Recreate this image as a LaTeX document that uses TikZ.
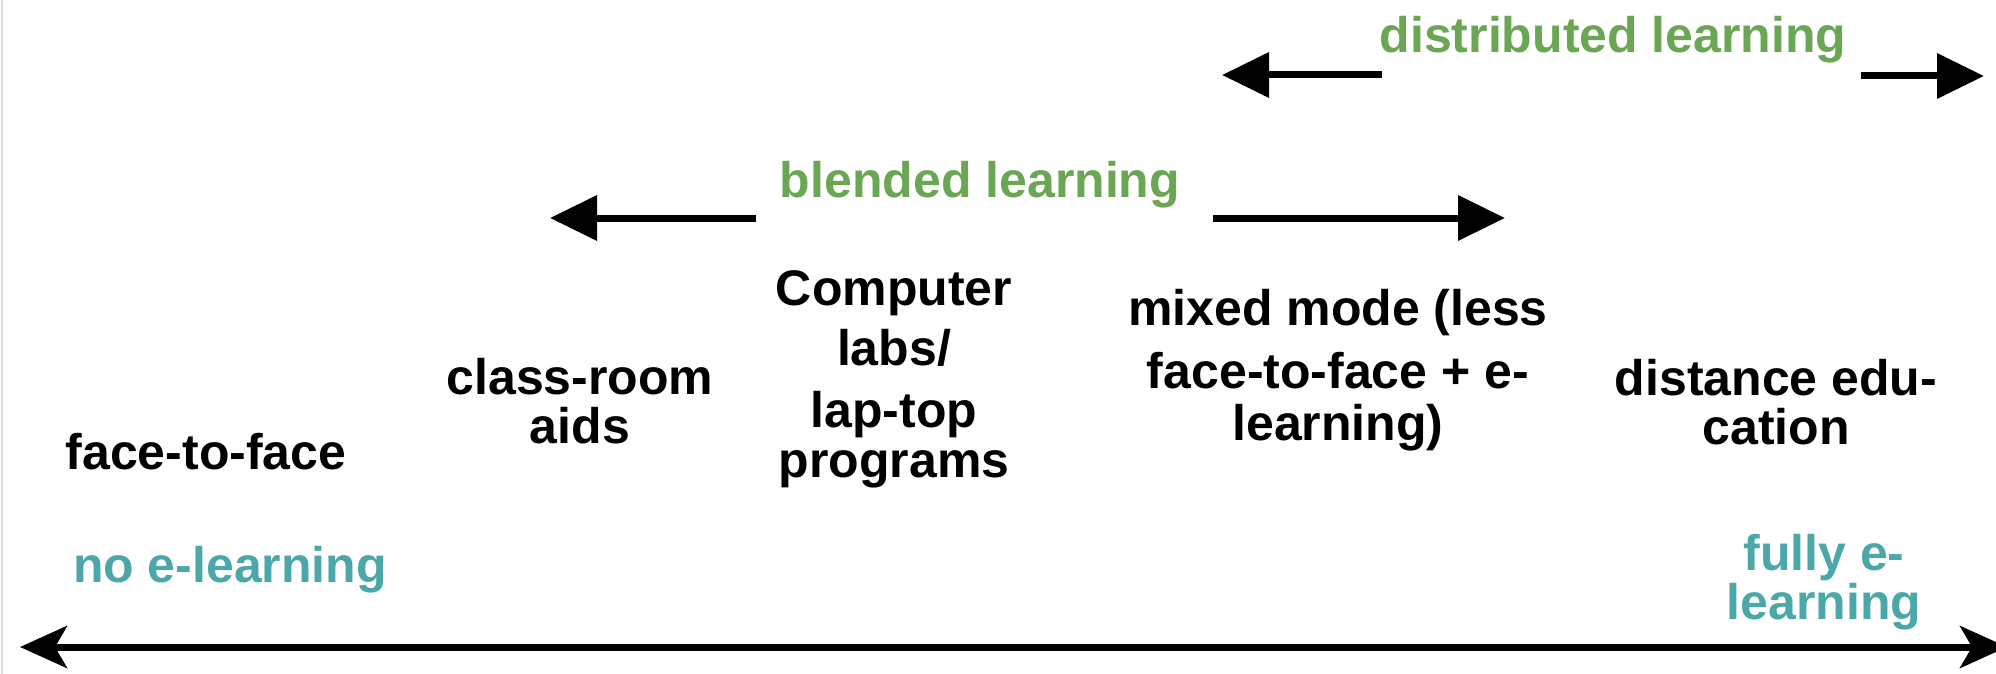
\documentclass[tikz,border=0pt]{standalone}
\usepackage{fontspec}
\setmainfont{Liberation Sans}
\usetikzlibrary{arrows.meta}

\definecolor{leafgreen}{RGB}{106,166,84}
\definecolor{seateal}{RGB}{76,168,168}

% centred lines, baseline of the box = baseline of the first line
\newcommand\stacklines[1]{\vtop{\baselineskip=49pt\lineskiplimit=-200pt\lineskip=0pt\halign{\hfil##\hfil\cr#1\crcr}}}

\tikzset{
  lbl/.style={font=\bfseries\fontsize{50}{49}\selectfont, inner sep=0pt, anchor=base},
  modelbl/.style={lbl, text=black},
  spanlbl/.style={lbl, text=leafgreen},
  endlbl/.style={lbl, text=seateal},
  spanarrow/.style={line width=7pt, -{Triangle[length=47pt,width=44pt]}},
  axistip/.tip={Stealth[length=47pt,width=42pt,inset=12pt]},
  axisarrow/.style={line width=7pt, axistip-axistip},
}

\begin{document}
\begin{tikzpicture}[x=1pt,y=-1pt]
\useasboundingbox (0,0) rectangle (1996,674);

% thin frame edge on the left
\draw[gray!30, line width=2pt] (2,0) -- (2,674);

% modes of delivery
\node[modelbl] (ftf)  at (206,469) {face-to-face};
\node[modelbl] (aids) at (580,394) {\stacklines{class-room\cr aids}};
\node[modelbl] (labs) at (894,305) {\stacklines{Computer\cr\noalign{\vskip11pt}labs/\cr\noalign{\vskip13pt}lap-top\cr\noalign{\vskip1pt}programs}};
\node[modelbl] (mix)  at (1338,325) {\stacklines{mixed mode (less\cr\noalign{\vskip14pt}face-to-face + e-\cr\noalign{\vskip3pt}learning)}};
\node[modelbl] (dist) at (1776,395) {\stacklines{distance edu-\cr cation}};

% spans
\node[spanlbl] (blend) at (980,197) {blended learning};
\node[spanlbl] (distr) at (1613,53) {distributed learning};

% ends of the scale
\node[endlbl] (none) at (230,582) {no e-learning};
\node[endlbl] (full) at (1824,570) {\stacklines{fully e-\cr learning}};

% span arrows
\coordinate (blendL0) at (756,218);
\coordinate (blendL1) at (550,218);
\coordinate (blendR0) at (1213,218);
\coordinate (blendR1) at (1505,218);
\coordinate (distrL0) at (1382,75);
\coordinate (distrL1) at (1222,75);
\coordinate (distrR0) at (1861,76);
\coordinate (distrR1) at (1984,76);
\draw[spanarrow] (blendL0) -- (blendL1);
\draw[spanarrow] (blendR0) -- (blendR1);
\draw[spanarrow] (distrL0) -- (distrL1);
\draw[spanarrow] (distrR0) -- (distrR1);

% scale axis
\coordinate (axisL) at (20,647);
\coordinate (axisR) at (2007,647);
\draw[axisarrow] (axisL) -- (axisR);
\end{tikzpicture}
\end{document}
